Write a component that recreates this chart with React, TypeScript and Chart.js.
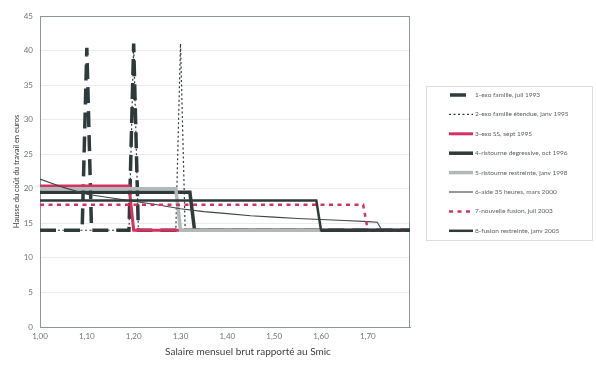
import React, { useEffect, useRef } from 'react';
import { Chart, registerables } from 'chart.js';

Chart.register(...registerables);

// ---- Data ----
const seriesNames = [
  '1-exo famille, juil 1993',
  '2-exo famille étendue, janv 1995',
  '3-exo SS, sept 1995',
  '4-ristourne degressive, oct 1996',
  '5-ristourne restreinte, janv 1998',
  '6-aide 35 heures, mars 2000',
  '7-nouvelle fusion, juil 2003',
  '8-fusion restreinte, janv 2005',
];

const exoFamille1993X = [1.0, 1.09, 1.1, 1.11, 1.19, 1.2, 1.21, 1.79];
const exoFamille1993Y = [14, 14, 40.4, 14, 14, 41, 14, 14];

const exoEtendue1995X = [1.0, 1.19, 1.2, 1.21, 1.29, 1.3, 1.31, 1.79];
const exoEtendue1995Y = [14, 14, 40.8, 14, 14, 41, 14, 14];

const exoSS1995X = [1.0, 1.19, 1.2, 1.79];
const exoSS1995Y = [20.4, 20.4, 14, 14];

const ristourne1996X = [1.0, 1.32, 1.33, 1.79];
const ristourne1996Y = [19.5, 19.5, 14, 14];

const ristourne1998X = [1.0, 1.29, 1.3, 1.6];
const ristourne1998Y = [20.0, 20.0, 14, 14];

const aide35hX = [1.0, 1.05, 1.1, 1.15, 1.2, 1.25, 1.3, 1.35, 1.4, 1.45, 1.5, 1.55, 1.6, 1.65, 1.7, 1.72, 1.73, 1.79];
const aide35hY = [21.4, 20.2, 19.2, 18.7, 18.2, 17.7, 17.1, 16.7, 16.4, 16.1, 15.9, 15.7, 15.55, 15.4, 15.25, 15.15, 14, 14];

const fusion2003X = [1.0, 1.69, 1.7, 1.79];
const fusion2003Y = [17.7, 17.7, 14, 14];

const fusion2005X = [1.0, 1.59, 1.6, 1.79];
const fusion2005Y = [18.3, 18.3, 14, 14];

const xMin = 1.0;
const xMax = 1.79;
const yTicksMax = 45;

const allX = [exoFamille1993X, exoEtendue1995X, exoSS1995X, ristourne1996X, ristourne1998X, aide35hX, fusion2003X, fusion2005X];
const allY = [exoFamille1993Y, exoEtendue1995Y, exoSS1995Y, ristourne1996Y, ristourne1998Y, aide35hY, fusion2003Y, fusion2005Y];

const DARK = '#2f3a3a';
const RED = '#d8305f';
const GREY = '#b3b9b9';

const styles = [
  { color: DARK, width: 3.5, dash: [16, 8], legendStart: 450 },
  { color: DARK, width: 1.2, dash: [2, 2.5], legendStart: 449 },
  { color: RED, width: 3, dash: [], legendStart: 449 },
  { color: DARK, width: 3.5, dash: [], legendStart: 449 },
  { color: GREY, width: 3.5, dash: [], legendStart: 449 },
  { color: '#3d4747', width: 1.1, dash: [], legendStart: 449 },
  { color: RED, width: 2.5, dash: [4, 4.5], legendStart: 449 },
  { color: DARK, width: 2.5, dash: [], legendStart: 449 },
];

const FONT = 'Lato';

const customPlugin = {
  id: 'customDecor',
  beforeDatasetsDraw(chart: any) {
    const { ctx, chartArea: a } = chart;
    ctx.save();
    ctx.strokeStyle = '#8d9595';
    ctx.lineWidth = 1;
    ctx.strokeRect(Math.round(a.left) + 0.5, Math.round(a.top) + 0.5, Math.round(a.right - a.left) - 1, Math.round(a.bottom - a.top));
    ctx.restore();
  },
  afterDraw(chart: any) {
    const { ctx } = chart;
    ctx.save();
    // legend box
    ctx.strokeStyle = '#dcdede';
    ctx.lineWidth = 1;
    ctx.strokeRect(426.5, 86.5, 166, 154);
    chart.data.datasets.forEach((ds: any, i: number) => {
      const y = 95 + i * 19.4;
      const st = styles[i];
      ctx.beginPath();
      ctx.strokeStyle = ds.borderColor;
      ctx.lineWidth = ds.borderWidth;
      ctx.setLineDash(ds.borderDash || []);
      ctx.moveTo(st.legendStart, y);
      ctx.lineTo(473, y);
      ctx.stroke();
      ctx.setLineDash([]);
      ctx.fillStyle = '#5a5f5f';
      ctx.font = `6.5px ${FONT}`;
      ctx.textBaseline = 'middle';
      ctx.textAlign = 'left';
      ctx.fillText(ds.label, 475, y);
    });
    // x axis title
    ctx.fillStyle = '#3a3f3f';
    ctx.font = `10px ${FONT}`;
    ctx.textAlign = 'center';
    ctx.textBaseline = 'middle';
    ctx.fillText('Salaire mensuel brut rapporté au Smic', 248, 352);
    ctx.restore();
  },
};

export default function App() {
  const ref = useRef<HTMLCanvasElement | null>(null);
  useEffect(() => {
    if (!ref.current) return;
    const datasets = seriesNames.map((name, i) => ({
      label: name,
      data: allX[i].map((x, j) => ({ x, y: allY[i][j] })),
      borderColor: styles[i].color,
      backgroundColor: styles[i].color,
      borderWidth: styles[i].width,
      borderDash: styles[i].dash,
      pointRadius: 0,
      tension: 0,
      fill: false,
      order: 8 - i,
    }));
    const chart = new Chart(ref.current, {
      type: 'line',
      data: { datasets },
      plugins: [customPlugin],
      options: {
        animation: false,
        responsive: false,
        layout: { padding: { left: 0, right: 186, top: 16, bottom: 0 } },
        plugins: { legend: { display: false }, tooltip: { enabled: false } },
        scales: {
          x: {
            type: 'linear',
            min: xMin,
            max: xMax,
            grid: { display: false, drawTicks: false },
            border: { display: true, color: '#8d9595' },
            ticks: {
              stepSize: 0.1,
              autoSkip: false,
              maxRotation: 0,
              padding: 5,
              color: '#707575',
              font: { family: FONT, size: 8 },
              callback: (v: any) => (Number(v) > 1.75 ? '' : Number(v).toFixed(2).replace('.', ',')),
            },
            afterFit: (s: any) => {
              s.height = 44;
            },
          },
          y: {
            min: 0,
            max: yTicksMax,
            grid: { color: '#ececec', lineWidth: 1, drawTicks: false },
            border: { display: true, color: '#8d9595' },
            ticks: {
              stepSize: 5,
              padding: 7,
              color: '#707575',
              font: { family: FONT, size: 8 },
            },
            title: {
              display: true,
              text: 'Hausse du coût du travail en euros',
              color: '#3a3f3f',
              font: { family: FONT, size: 7.5 },
              padding: { top: 12, bottom: 0 },
            },
            afterFit: (s: any) => {
              s.width = 40;
            },
          },
        },
      },
    });
    return () => chart.destroy();
  }, []);
  return (
    <div style={{ position: 'fixed', left: 0, top: 0, width: 596, height: 371, background: '#fff' }}>
      <canvas ref={ref} width={596} height={371} style={{ display: 'block' }} />
    </div>
  );
}
